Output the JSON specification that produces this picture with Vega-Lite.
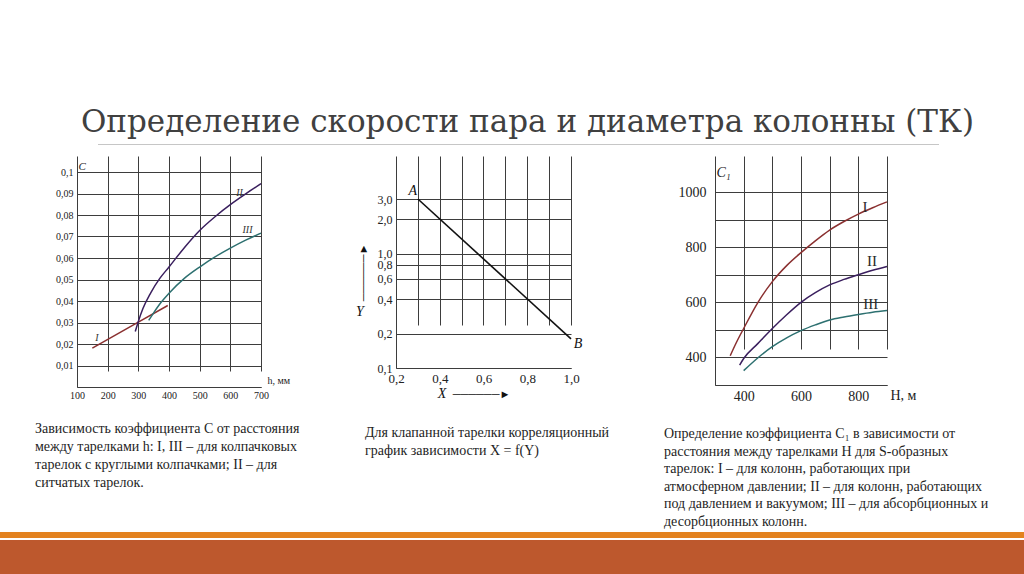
{
  "$schema": "https://vega.github.io/schema/vega-lite/v6.json",
  "background": "white",
  "padding": {"top": 107, "left": 0, "right": 0, "bottom": 0},
  "spacing": 0,
  "config": {
    "font": "Liberation Serif",
    "view": {"stroke": null},
    "axis": {
      "ticks": false,
      "tickCount": 20,
      "labelFont": "Liberation Serif",
      "labelColor": "#222",
      "titleFont": "Liberation Serif",
      "titleColor": "#222",
      "titleFontWeight": "normal",
      "domainColor": "#3d3d3d",
      "gridColor": "#3d3d3d",
      "gridOpacity": 1,
      "labelFlush": false,
      "labelOverlap": false,
      "labelBound": false
    },
    "title": {"font": "Liberation Serif", "fontWeight": "normal", "color": "#1e1e1e"},
    "text": {"font": "Liberation Serif"}
  },
  "vconcat": [
    {
      "bounds": "flush",
      "spacing": 0,
      "hconcat": [
        {"width": 98, "height": 1, "data": {"values": [{}]}, "mark": {"type": "text", "text": ""}},
        {
          "width": 841,
          "height": 1,
          "view": {"fill": "#c6c6c6"},
          "data": {"values": [{"heading": "Определение скорости пара и диаметра колонны (ТК)"}]},
          "mark": {
            "type": "text",
            "font": "DejaVu Serif",
            "fontSize": 31,
            "align": "center",
            "baseline": "alphabetic",
            "dx": 9,
            "dy": -12.5,
            "color": "#404040"
          },
          "encoding": {"text": {"field": "heading"}}
        }
      ]
    },
    {
      "bounds": "flush",
      "spacing": 0,
      "hconcat": [
        {"width": 77, "height": 1, "data": {"values": [{}]}, "mark": {"type": "text", "text": ""}},
        {
          "width": 184,
          "height": 231,
          "title": {
            "text": [
              "Зависимость коэффициента C от расстояния",
              "между тарелками h: I, III – для колпачковых",
              "тарелок с круглыми колпачками; II – для",
              "ситчатых тарелок."
            ],
            "font": "Liberation Serif",
            "orient": "bottom",
            "anchor": "start",
            "frame": "group",
            "align": "left",
            "baseline": "top",
            "dx": -42,
            "offset": 22,
            "fontSize": 14,
            "lineHeight": 18
          },
          "layer": [
            {
              "data": {"values": [
                {"s": "I", "h": 150, "C": 0.0181},
                {"s": "I", "h": 300, "C": 0.0302},
                {"s": "I", "h": 396, "C": 0.0379},
                {"s": "II", "h": 290, "C": 0.0258},
                {"s": "II", "h": 300, "C": 0.0305},
                {"s": "II", "h": 315, "C": 0.0365},
                {"s": "II", "h": 340, "C": 0.0437},
                {"s": "II", "h": 370, "C": 0.0505},
                {"s": "II", "h": 400, "C": 0.0558},
                {"s": "II", "h": 450, "C": 0.0648},
                {"s": "II", "h": 500, "C": 0.0728},
                {"s": "II", "h": 550, "C": 0.0792},
                {"s": "II", "h": 600, "C": 0.0848},
                {"s": "II", "h": 650, "C": 0.0898},
                {"s": "II", "h": 700, "C": 0.0946},
                {"s": "III", "h": 334, "C": 0.031},
                {"s": "III", "h": 350, "C": 0.0345},
                {"s": "III", "h": 375, "C": 0.0395},
                {"s": "III", "h": 400, "C": 0.0436},
                {"s": "III", "h": 450, "C": 0.0505},
                {"s": "III", "h": 500, "C": 0.0558},
                {"s": "III", "h": 550, "C": 0.0605},
                {"s": "III", "h": 600, "C": 0.0646},
                {"s": "III", "h": 650, "C": 0.0683},
                {"s": "III", "h": 700, "C": 0.0716}
              ]},
              "mark": {"type": "line", "interpolate": "monotone", "strokeWidth": 1.5},
              "encoding": {
                "x": {
                  "field": "h", "type": "quantitative",
                  "scale": {"domain": [100, 700], "nice": false, "zero": false},
                  "axis": {
                    "values": [100, 200, 300, 400, 500, 600, 700],
                    "tickCount": 20,
                    "labelFontSize": 10, "labelPadding": 3,
                    "title": "h, мм", "titleFontSize": 10,
                    "titleX": 190, "titleY": -7, "titleAlign": "left", "titleBaseline": "middle"
                  }
                },
                "y": {
                  "field": "C", "type": "quantitative",
                  "scale": {"domain": [0, 0.1], "nice": false, "zero": false, "range": [231, 16]},
                  "axis": {
                    "values": [0, 0.01, 0.02, 0.03, 0.04, 0.05, 0.06, 0.07, 0.08, 0.09, 0.1],
                    "tickCount": 20,
                    "labelExpr": "datum.value == 0 ? '' : replace(format(datum.value, '.2~f'), '.', ',')",
                    "labelFontSize": 10, "labelPadding": 4,
                    "title": "C", "titleFontSize": 11, "titleFontStyle": "italic", "titleAngle": 0,
                    "titleX": 1, "titleY": 13, "titleAlign": "left", "titleBaseline": "alphabetic"
                  }
                },
                "color": {
                  "field": "s", "type": "nominal",
                  "scale": {"domain": ["I", "II", "III"], "range": ["#8a3030", "#3a1f5e", "#2d7070"]},
                  "legend": null
                }
              }
            },
            {
              "data": {"values": [
                {"t": "I", "h": 165, "C": 0.0226},
                {"t": "II", "h": 630, "C": 0.0902},
                {"t": "III", "h": 656, "C": 0.0728}
              ]},
              "mark": {"type": "text", "fontStyle": "italic", "fontSize": 10, "color": "#333"},
              "encoding": {
                "x": {"field": "h", "type": "quantitative"},
                "y": {"field": "C", "type": "quantitative"},
                "text": {"field": "t"}
              }
            }
          ]
        },
        {"width": 135, "height": 1, "data": {"values": [{}]}, "mark": {"type": "text", "text": ""}},
        {
          "width": 175,
          "height": 212,
          "title": {
            "text": [
              "Для клапанной тарелки корреляционный",
              "график зависимости X = f(Y)"
            ],
            "font": "Liberation Serif",
            "orient": "bottom",
            "anchor": "start",
            "frame": "group",
            "align": "left",
            "baseline": "top",
            "dx": -31,
            "offset": 25,
            "fontSize": 14,
            "lineHeight": 18
          },
          "layer": [
            {
              "data": {"values": [
                {"X": 0.3, "Y": 3.0},
                {"X": 1.0, "Y": 0.18}
              ]},
              "mark": {"type": "line", "color": "#111", "strokeWidth": 1.6},
              "encoding": {
                "x": {
                  "field": "X", "type": "quantitative",
                  "scale": {"domain": [0.2, 1.0], "nice": false, "zero": false},
                  "axis": {
                    "values": [0.2, 0.3, 0.4, 0.5, 0.6, 0.7, 0.8, 0.9, 1.0],
                    "tickCount": 20,
                    "labelExpr": "round(datum.value * 10) % 2 == 0 ? replace(format(datum.value, '.1f'), '.', ',') : ''",
                    "labelFontSize": 13, "labelPadding": 4,
                    "title": "──────►", "titleFontSize": 11, "titleColor": "#111",
                    "titleX": 85, "titleY": 26, "titleAlign": "center", "titleBaseline": "middle"
                  }
                },
                "y": {
                  "field": "Y", "type": "quantitative",
                  "scale": {"type": "log", "domain": [0.1, 3], "nice": false, "range": [212, 43]},
                  "axis": {
                    "values": [0.1, 0.2, 0.4, 0.6, 0.8, 1, 2, 3],
                    "tickCount": 20,
                    "labelExpr": "replace(format(datum.value, '.1f'), '.', ',')",
                    "labelFontSize": 12, "labelPadding": 4,
                    "title": "──────►", "titleFontSize": 11, "titleColor": "#111",
                    "titleAngle": 270, "titleX": -33, "titleY": 116,
                    "titleAlign": "center", "titleBaseline": "middle"
                  }
                }
              }
            },
            {
              "data": {"values": [{"t": "A", "X": 0.3, "Y": 3.0}]},
              "mark": {"type": "text", "fontStyle": "italic", "fontSize": 14, "dx": -5, "dy": -1, "baseline": "bottom", "color": "#111"},
              "encoding": {
                "x": {"field": "X", "type": "quantitative"},
                "y": {"field": "Y", "type": "quantitative"},
                "text": {"field": "t"}
              }
            },
            {
              "data": {"values": [{"t": "B", "X": 1.0, "Y": 0.18}]},
              "mark": {"type": "text", "fontStyle": "italic", "fontSize": 14, "dx": 7, "dy": 5, "baseline": "middle", "color": "#111"},
              "encoding": {
                "x": {"field": "X", "type": "quantitative"},
                "y": {"field": "Y", "type": "quantitative"},
                "text": {"field": "t"}
              }
            },
            {
              "data": {"values": [{"t": "Y", "X": 0.2, "Y": 0.31}]},
              "mark": {"type": "text", "fontStyle": "italic", "fontSize": 14, "dx": -36, "baseline": "middle", "color": "#111"},
              "encoding": {
                "x": {"field": "X", "type": "quantitative"},
                "y": {"field": "Y", "type": "quantitative"},
                "text": {"field": "t"}
              }
            },
            {
              "data": {"values": [{"t": "X", "X": 0.41, "Y": 0.1}]},
              "mark": {"type": "text", "fontStyle": "italic", "fontSize": 14, "dy": 26, "baseline": "middle", "color": "#111"},
              "encoding": {
                "x": {"field": "X", "type": "quantitative"},
                "y": {"field": "Y", "type": "quantitative"},
                "text": {"field": "t"}
              }
            }
          ]
        },
        {"width": 144, "height": 1, "data": {"values": [{}]}, "mark": {"type": "text", "text": ""}},
        {
          "width": 172,
          "height": 229,
          "title": {
            "text": [
              "Определение коэффициента C₁ в зависимости от",
              "расстояния  между тарелками H для S-образных",
              "тарелок: I – для колонн, работающих при",
              "атмосферном давлении; II – для колонн, работающих",
              "под давлением и вакуумом; III – для абсорбционных и",
              "десорбционных колонн."
            ],
            "font": "Liberation Serif",
            "orient": "bottom",
            "anchor": "start",
            "frame": "group",
            "align": "left",
            "baseline": "top",
            "dx": -51,
            "offset": 24,
            "fontSize": 14,
            "lineHeight": 17.6
          },
          "layer": [
            {
              "data": {"values": [
                {"s": "I", "H": 353, "C1": 406},
                {"s": "I", "H": 375, "C1": 455},
                {"s": "I", "H": 400, "C1": 505},
                {"s": "I", "H": 450, "C1": 600},
                {"s": "I", "H": 500, "C1": 675},
                {"s": "I", "H": 550, "C1": 733},
                {"s": "I", "H": 600, "C1": 780},
                {"s": "I", "H": 650, "C1": 823},
                {"s": "I", "H": 700, "C1": 862},
                {"s": "I", "H": 750, "C1": 893},
                {"s": "I", "H": 800, "C1": 920},
                {"s": "I", "H": 850, "C1": 943},
                {"s": "I", "H": 900, "C1": 964},
                {"s": "II", "H": 386, "C1": 372},
                {"s": "II", "H": 400, "C1": 396},
                {"s": "II", "H": 450, "C1": 451},
                {"s": "II", "H": 500, "C1": 505},
                {"s": "II", "H": 550, "C1": 555},
                {"s": "II", "H": 600, "C1": 600},
                {"s": "II", "H": 650, "C1": 635},
                {"s": "II", "H": 700, "C1": 663},
                {"s": "II", "H": 750, "C1": 683},
                {"s": "II", "H": 800, "C1": 700},
                {"s": "II", "H": 850, "C1": 716},
                {"s": "II", "H": 900, "C1": 730},
                {"s": "III", "H": 400, "C1": 352},
                {"s": "III", "H": 450, "C1": 399},
                {"s": "III", "H": 500, "C1": 439},
                {"s": "III", "H": 550, "C1": 471},
                {"s": "III", "H": 600, "C1": 497},
                {"s": "III", "H": 650, "C1": 518},
                {"s": "III", "H": 700, "C1": 536},
                {"s": "III", "H": 750, "C1": 547},
                {"s": "III", "H": 800, "C1": 556},
                {"s": "III", "H": 850, "C1": 564},
                {"s": "III", "H": 900, "C1": 570}
              ]},
              "mark": {"type": "line", "interpolate": "monotone", "strokeWidth": 1.5},
              "encoding": {
                "x": {
                  "field": "H", "type": "quantitative",
                  "scale": {"domain": [300, 900], "nice": false, "zero": false},
                  "axis": {
                    "values": [300, 400, 500, 600, 700, 800, 900],
                    "tickCount": 20,
                    "labelExpr": "datum.value % 200 == 0 ? format(datum.value, 'd') : ''",
                    "labelFontSize": 14, "labelPadding": 4,
                    "title": "H, м", "titleFontSize": 14,
                    "titleX": 175, "titleY": 10, "titleAlign": "left", "titleBaseline": "middle"
                  }
                },
                "y": {
                  "field": "C1", "type": "quantitative",
                  "scale": {"domain": [300, 1000], "nice": false, "zero": false, "range": [229, 36]},
                  "axis": {
                    "values": [300, 400, 500, 600, 700, 800, 900, 1000],
                    "tickCount": 20,
                    "labelExpr": "datum.value % 200 == 0 ? format(datum.value, 'd') : ''",
                    "labelFontSize": 14, "labelPadding": 9,
                    "title": "C₁", "titleFontSize": 14, "titleFontStyle": "italic", "titleAngle": 0,
                    "titleX": 1, "titleY": 20, "titleAlign": "left", "titleBaseline": "alphabetic"
                  }
                },
                "color": {
                  "field": "s", "type": "nominal",
                  "scale": {"domain": ["I", "II", "III"], "range": ["#7d3b35", "#54296b", "#3f8a8e"]},
                  "legend": null
                }
              }
            },
            {
              "data": {"values": [
                {"t": "I", "H": 823, "C1": 946},
                {"t": "II", "H": 848, "C1": 748},
                {"t": "III", "H": 843, "C1": 593}
              ]},
              "mark": {"type": "text", "fontSize": 15, "color": "#2a2a2a"},
              "encoding": {
                "x": {"field": "H", "type": "quantitative"},
                "y": {"field": "C1", "type": "quantitative"},
                "text": {"field": "t"}
              }
            }
          ]
        }
      ]
    },
    {"width": 1024, "height": 6, "view": {"fill": "#e3821f"}, "data": {"values": [{}]}, "mark": {"type": "text", "text": ""}},
    {"width": 1024, "height": 40, "view": {"fill": "#bd582d"}, "data": {"values": [{}]}, "mark": {"type": "text", "text": ""}}
  ]
}
